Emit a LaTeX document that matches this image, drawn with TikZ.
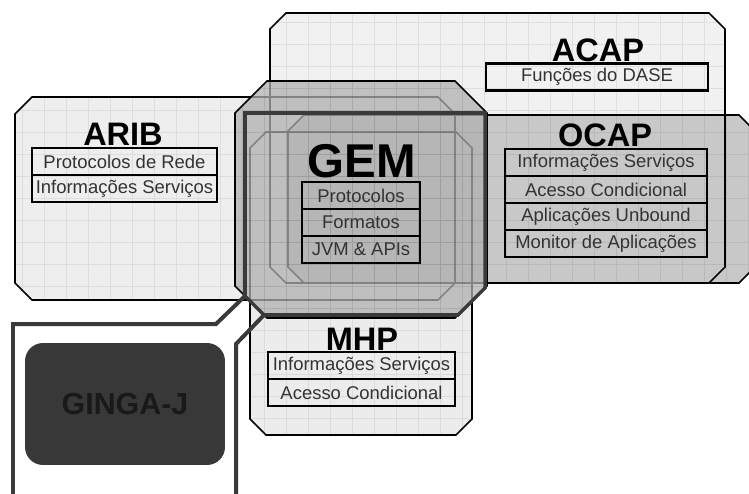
\documentclass[tikz,border=0pt]{standalone}
\usepackage{fontspec}
\setmainfont{Liberation Sans}
\usetikzlibrary{positioning}

\definecolor{acapfill}{HTML}{F1F1F1}
\definecolor{aribfill}{HTML}{EEEEEE}
\definecolor{mhpfill}{HTML}{ECECEC}
\definecolor{ocapfill}{HTML}{C8C8C8}
\definecolor{gemfill}{HTML}{B0B0B0}
\definecolor{framegray}{HTML}{3A3A3A}
\definecolor{gingafill}{HTML}{383838}
\definecolor{rowtext}{HTML}{333333}

% chamfered box: [style] x1 y1 x2 y2 corner
\newcommand{\chamf}[6][]{%
  \path[#1] ({#2+#6},#3) -- ({#4-#6},#3) -- (#4,{#3+#6}) -- (#4,{#5-#6})
    -- ({#4-#6},#5) -- ({#2+#6},#5) -- (#2,{#5-#6}) -- (#2,{#3+#6}) -- cycle;}

\tikzset{
  gridded/.style={path picture={\draw[black,opacity=.07,line width=.3pt,step=.44cm]
      (path picture bounding box.south west) grid (path picture bounding box.north east);}},
  stdzone/.style={fill=#1,draw=black,line width=.9pt,blend mode=darken,gridded},
  gemzone/.style={fill=gemfill,fill opacity=.75,draw=black,line width=.9pt,gridded},
  gemcore/.style={draw=framegray,line width=2pt},
  gingaline/.style={draw=framegray,line width=.08cm},
  title/.style={font=\fontsize{18.5}{22}\selectfont\bfseries,inner sep=0pt,anchor=base},
  rowbox/.style={draw=black,line width=1.3pt,minimum width=#1,minimum height=.54cm,
      inner sep=0pt,outer sep=0pt,text=rowtext,font=\fontsize{10.5}{12}\selectfont},
  ginga/.style={fill=gingafill,rounded corners=.36cm,minimum width=4cm,minimum height=2.44cm,
      text=black!90,font=\fontsize{17.3}{20}\selectfont\bfseries}
}

\begin{document}
\begin{tikzpicture}[x=0.02cm,y=-0.02cm]
\useasboundingbox (0,0) rectangle (749,493);

% standards
\chamf[stdzone=acapfill]{270}{13}{725}{283}{16}
\chamf[stdzone=ocapfill]{288}{115}{755}{283}{16}
\chamf[stdzone=aribfill]{15}{97}{455}{300}{17}
\chamf[stdzone=mhpfill]{250}{132}{472}{435}{16}

% GEM core
\chamf[gemzone]{235}{81}{487}{318}{32}
\coordinate (corea) at (245,296);
\coordinate (coreb) at (264,315);
\draw[gemcore] (corea) -- (245,113) -- (485,113) -- (485,288) -- (458,315) -- (coreb) -- cycle;

% GINGA-J
\coordinate (gingabl) at (13,497);
\coordinate (gingabr) at (236,497);
\draw[gingaline] (gingabl) -- (13,324) -- (216,324) -- (corea);
\draw[gingaline] (gingabr) -- (236,344) -- (coreb);
\node[ginga] (gingaj) at (125,404) {GINGA-J};

% ACAP
\node[title] (acap) at (598,62) {ACAP};
\node[rowbox=4.44cm] (acap1) at (597,77) {Funções do DASE};

% ARIB
\node[title] (arib) at (123,146) {ARIB};
\node[rowbox=3.7cm] (arib1) at (124.5,161.5) {Protocolos de Rede};
\node[rowbox=3.7cm,below=0pt of arib1] (arib2) {Informações Serviços};

% OCAP
\node[title] (ocap) at (605,147) {OCAP};
\node[rowbox=4.04cm] (ocap1) at (606,162.5) {Informações Serviços};
\node[rowbox=4.04cm,below=0pt of ocap1] (ocap2) {Acesso Condicional};
\node[rowbox=4.04cm,below=0pt of ocap2] (ocap3) {Aplicações Unbound};
\node[rowbox=4.04cm,below=0pt of ocap3] (ocap4) {Monitor de Aplicações};

% GEM
\node[title,font=\fontsize{27}{30}\selectfont\bfseries] (gem) at (362,177) {GEM};
\node[rowbox=2.36cm] (gem1) at (361,195.5) {Protocolos};
\node[rowbox=2.36cm,below=0pt of gem1] (gem2) {Formatos};
\node[rowbox=2.36cm,below=0pt of gem2] (gem3) {JVM \& APIs};

% MHP
\node[title] (mhp) at (362,350) {MHP};
\node[rowbox=3.74cm] (mhp1) at (361.5,365.5) {Informações Serviços};
\node[rowbox=3.74cm,below=0pt of mhp1] (mhp2) {Acesso Condicional};
\end{tikzpicture}
\end{document}
